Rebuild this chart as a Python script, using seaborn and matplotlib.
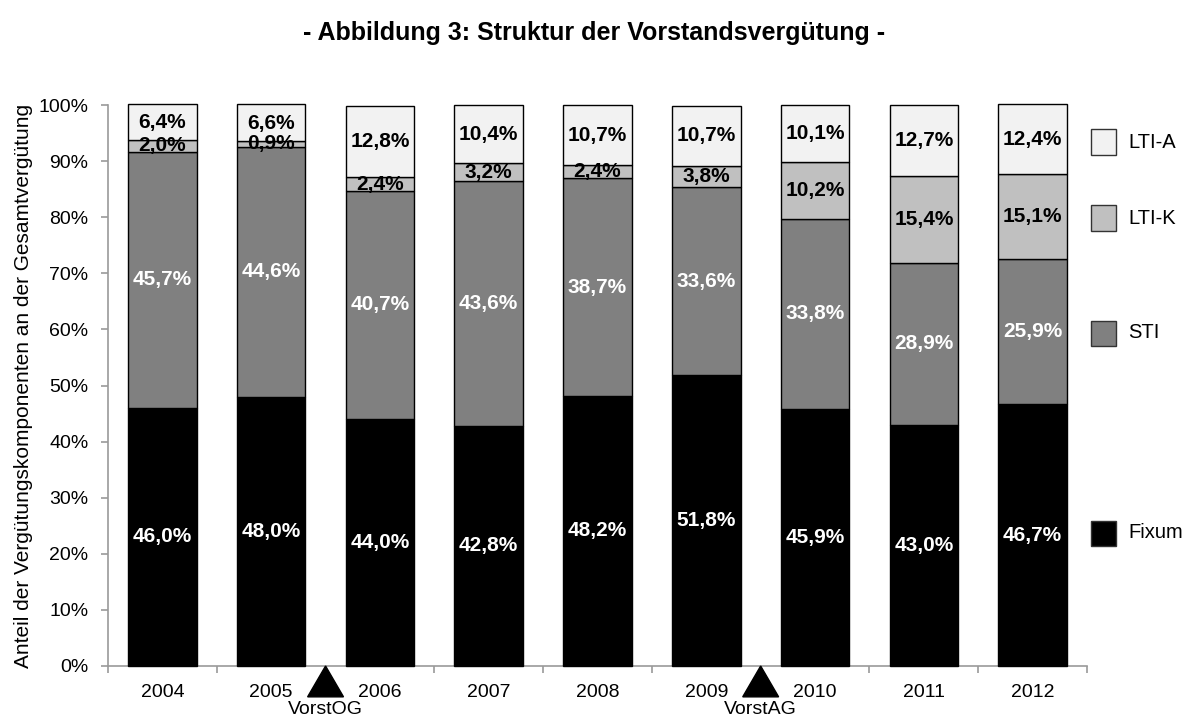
import matplotlib
matplotlib.use("Agg")
import matplotlib.pyplot as plt
from matplotlib.patches import Rectangle, Polygon
import seaborn as sns
import numpy as np
import pandas as pd

# ---- data ----
years = ["2004", "2005", "2006", "2007", "2008", "2009", "2010", "2011", "2012"]
fixum = [46.0, 48.0, 44.0, 42.8, 48.2, 51.8, 45.9, 43.0, 46.7]
sti = [45.7, 44.6, 40.7, 43.6, 38.7, 33.6, 33.8, 28.9, 25.9]
lti_k = [2.0, 0.9, 2.4, 3.2, 2.4, 3.8, 10.2, 15.4, 15.1]
lti_a = [6.4, 6.6, 12.8, 10.4, 10.7, 10.7, 10.1, 12.7, 12.4]
components = ["Fixum", "STI", "LTI-K", "LTI-A"]
y_ticks = [0, 10, 20, 30, 40, 50, 60, 70, 80, 90, 100]
events = ["VorstOG", "VorstAG"]
event_after = ["2005", "2009"]  # event marker placed between this year and the next

title = "- Abbildung 3: Struktur der Vorstandsvergütung -"
ylabel = "Anteil der Vergütungskomponenten an der Gesamtvergütung"

# ---- styling ----
colors = {"Fixum": "#000000", "STI": "#808080", "LTI-K": "#c0c0c0", "LTI-A": "#f2f2f2"}
label_colors = {"Fixum": "white", "STI": "white", "LTI-K": "black", "LTI-A": "black"}
FONT = "Liberation Sans"
AXCOL = "#9a9a9a"

sns.set_style("white")
plt.rcParams["font.family"] = [FONT, "DejaVu Sans"]
plt.rcParams["text.color"] = "black"
plt.rcParams["axes.labelcolor"] = "black"
plt.rcParams["xtick.color"] = "black"
plt.rcParams["ytick.color"] = "black"

df = pd.DataFrame({"Jahr": years, "Fixum": fixum, "STI": sti, "LTI-K": lti_k, "LTI-A": lti_a})

fig = plt.figure(figsize=(11.89, 7.17), dpi=100)
ax = fig.add_axes([108 / 1189, 51 / 717, (1087 - 108) / 1189, (666 - 105) / 717])

bottom = np.zeros(len(years))
for comp in components:
    vals = df[comp].to_numpy()
    sns.barplot(data=df, x="Jahr", y=comp, order=years, color=colors[comp], bottom=bottom,
                width=0.63, edgecolor="black", linewidth=1.0, ax=ax, saturation=1,
                clip_on=False, zorder=2)
    cont = ax.containers[-1]
    labels = [f"{v:.1f}".replace(".", ",") + "%" for v in vals]
    ax.bar_label(cont, labels=labels, label_type="center", color=label_colors[comp],
                 fontsize=15, fontweight="bold", family=FONT, zorder=5)
    bottom = bottom + vals

ax.set_xlim(-0.5, len(years) - 0.5)
ax.set_ylim(0, 100)
ax.set_yticks(y_ticks)
ax.set_yticklabels([f"{t}%" for t in y_ticks])
ax.set_xlabel("")
ax.set_ylabel(ylabel, fontsize=15, labelpad=4, color="black")

for s in ["top", "right"]:
    ax.spines[s].set_visible(False)
for s in ["left", "bottom"]:
    ax.spines[s].set_color(AXCOL)
    ax.spines[s].set_linewidth(1.2)
    ax.spines[s].set_zorder(1)

ax.tick_params(axis="y", which="major", direction="out", length=5, width=1.2, color=AXCOL,
               labelsize=14, pad=9, left=True, labelcolor="black")
ax.tick_params(axis="x", which="major", length=0, labelsize=14, pad=13, labelcolor="black")
ax.set_xticks(np.arange(-0.5, len(years)), minor=True)
ax.tick_params(axis="x", which="minor", direction="out", length=5, width=1.2, color=AXCOL, bottom=True)

# event markers (triangles below the axis)
xtr = ax.get_xaxis_transform()
for name, yr in zip(events, event_after):
    xc = years.index(yr) + 0.5
    tri = Polygon([(xc, 0.0), (xc - 0.165, -0.055), (xc + 0.165, -0.055)], closed=True,
                  facecolor="black", edgecolor="black", transform=xtr, clip_on=False, zorder=6)
    ax.add_patch(tri)
    ax.text(xc, -0.078, name, transform=xtr, ha="center", va="center", fontsize=14, color="black")

# title
fig.text(0.5, 1 - 33 / 717, title, ha="center", va="center", fontsize=18, fontweight="bold",
         color="black")

# legend (manual, right side)
leg_y = {"LTI-A": 142, "LTI-K": 218, "STI": 333, "Fixum": 533}
W, H = 1189.0, 717.0
for comp in ["LTI-A", "LTI-K", "STI", "Fixum"]:
    yc = leg_y[comp]
    fig.add_artist(Rectangle((1091 / W, 1 - (yc + 12.5) / H), 25 / W, 25 / H, transform=fig.transFigure,
                             facecolor=colors[comp], edgecolor="#333333", linewidth=1.0))
    fig.text(1128 / W, 1 - yc / H, comp, ha="left", va="center", fontsize=14.5, color="black")

fig.savefig("out.png", dpi=100)
